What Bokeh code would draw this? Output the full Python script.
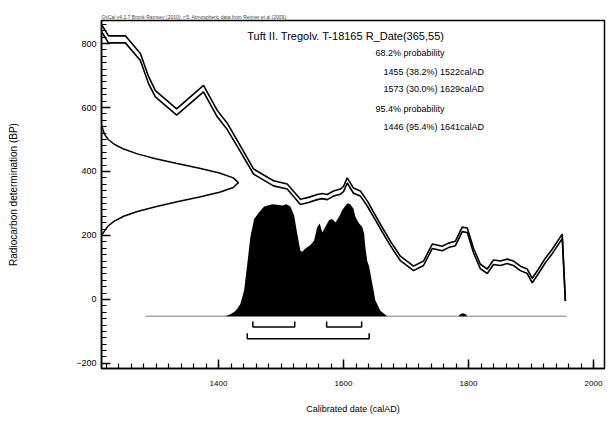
from bokeh.plotting import figure
from bokeh.models import Range1d, FixedTicker, Label
from bokeh.embed import file_html
from bokeh.resources import INLINE

FONT = "Liberation Sans"

# ---- axis ticks ----
x_major = [1200, 1400, 1600, 1800, 2000]
y_major = [-200, 0, 200, 400, 600, 800]
x_minor = list(range(1200, 2021, 20))
y_minor = list(range(-220, 881, 20))

# ---- calibration curve (mean BP and 1-sigma) ----
cal_year = [1210, 1213, 1224, 1251, 1275, 1288, 1299, 1333, 1376, 1398, 1414, 1432, 1456,
            1488, 1510, 1531, 1544, 1558, 1566, 1574, 1584, 1595, 1600, 1606, 1616, 1627,
            1638, 1659, 1675, 1691, 1712, 1728, 1742, 1758, 1768, 1779, 1790, 1798, 1808,
            1819, 1830, 1840, 1851, 1862, 1872, 1883, 1894, 1902, 1912, 1923, 1934, 1950, 1955]
cal_bp = [860, 848, 813, 813, 758, 686, 643, 586, 659, 581, 541, 481, 400,
          363, 353, 305, 311, 320, 323, 320, 331, 337, 345, 372, 340, 331,
          300, 228, 175, 128, 97, 113, 166, 159, 169, 175, 219, 216, 153,
          103, 88, 116, 113, 119, 113, 97, 88, 59, 88, 122, 150, 197, -5]
cal_sigma = [11, 11, 11, 11, 11, 11, 10, 10, 10, 10, 10, 9, 8,
             8, 8, 8, 8, 8, 8, 8, 8, 8, 8, 8, 8, 8,
             8, 7, 7, 7, 7, 7, 7, 7, 7, 7, 7, 7, 7,
             7, 7, 7, 7, 7, 7, 7, 7, 7, 7, 7, 7, 7, 0]

# ---- R_Date(365,55): radiocarbon likelihood along the BP axis (relative height) ----
rdate_bp = [548, 530, 515, 500, 485, 470, 455, 440, 425, 410, 395, 380, 365,
            350, 335, 320, 305, 290, 275, 260, 245, 230, 215, 200]
rdate_dens = [0.0, 0.011, 0.024, 0.049, 0.093, 0.162, 0.262, 0.395, 0.552, 0.716, 0.862, 0.963, 1.0,
              0.963, 0.862, 0.716, 0.552, 0.395, 0.262, 0.162, 0.093, 0.049, 0.024, 0.0]

# ---- calibrated posterior (relative height) ----
post_year = [1411, 1419, 1425, 1430, 1435, 1441, 1446, 1451, 1457, 1465, 1473, 1486, 1494,
             1502, 1509, 1515, 1521, 1526, 1531, 1534, 1539, 1547, 1553, 1558, 1562, 1566,
             1570, 1577, 1582, 1587, 1593, 1598, 1606, 1611, 1616, 1619, 1625, 1630, 1633,
             1635, 1638, 1641, 1646, 1651, 1659, 1670]
post_dens = [0.0, 0.018, 0.038, 0.068, 0.11, 0.23, 0.46, 0.70, 0.86, 0.92, 0.97, 0.99, 0.985,
             0.98, 0.99, 0.97, 0.89, 0.73, 0.58, 0.57, 0.60, 0.63, 0.67, 0.79, 0.82, 0.74,
             0.78, 0.85, 0.86, 0.83, 0.88, 0.94, 1.0, 0.99, 0.95, 0.88, 0.82, 0.79, 0.73,
             0.61, 0.49, 0.44, 0.29, 0.14, 0.05, 0.0]
bump_year = [1784, 1787, 1791, 1795, 1798]
bump_dens = [0.0, 0.02, 0.028, 0.02, 0.0]
post_span = [1283, 1957]

# ---- ranges ----
r68_from = [1455, 1573]
r68_to = [1522, 1629]
r95_from = [1446]
r95_to = [1641]

title_text = "Tuft II. Tregolv. T-18165 R_Date(365,55)"
info_lines = ["68.2% probability", "1455 (38.2%) 1522calAD", "1573 (30.0%) 1629calAD",
              "95.4% probability", "1446 (95.4%) 1641calAD"]
credit = "OxCal v4.1.7 Bronk Ramsey (2010); r:5; Atmospheric data from Reimer et al (2009);"

X0, X1 = 1212.8, 2017.6
Y0, Y1 = -216, 872

p = figure(width=609, height=423, output_backend="svg", toolbar_location=None,
           x_range=Range1d(X0, X1), y_range=Range1d(Y0, Y1),
           min_border_left=101, min_border_right=5, min_border_top=20, min_border_bottom=55)
p.grid.visible = False
p.outline_line_color = "black"
p.outline_line_width = 1.5
p.background_fill_color = "white"
p.border_fill_color = "white"

p.title.text = credit
p.title.text_font = FONT
p.title.text_font_size = "5px"
p.title.text_font_style = "normal"
p.title.align = "left"
p.title.standoff = 1
p.title.offset = 0

p.xaxis.ticker = FixedTicker(ticks=x_major, minor_ticks=x_minor)
p.yaxis.ticker = FixedTicker(ticks=y_major, minor_ticks=y_minor)
for ax in (p.xaxis[0], p.yaxis[0]):
    ax.major_tick_in = 9
    ax.major_tick_out = 0
    ax.minor_tick_in = 5
    ax.minor_tick_out = 0
    ax.axis_line_width = 1.5
    ax.major_tick_line_width = 1.5
    ax.major_tick_line_color = "black"
    ax.minor_tick_line_width = 1.2
    ax.minor_tick_line_color = "black"
    ax.major_label_text_font = FONT
    ax.major_label_text_color = "black"
    ax.axis_label_text_font = FONT
    ax.axis_label_text_font_style = "normal"
    ax.axis_label_text_color = "black"

p.xaxis.axis_label = "Calibrated date (calAD)"
p.xaxis.axis_label_text_font_size = "9px"
p.xaxis.major_label_text_font_size = "8px"
p.xaxis.major_label_standoff = 12
p.xaxis.axis_label_standoff = 15

p.yaxis.axis_label = "Radiocarbon determination (BP)"
p.yaxis.axis_label_text_font_size = "10px"
p.yaxis.major_label_text_font_size = "9px"
p.yaxis.major_label_standoff = 5
p.yaxis.axis_label_standoff = 54

# calibration curve: two lines at mean +/- sigma
upper = [m + s for m, s in zip(cal_bp, cal_sigma)]
lower = [m - s for m, s in zip(cal_bp, cal_sigma)]
p.line(cal_year, upper, line_color="black", line_width=1.6)
p.line(cal_year, lower, line_color="black", line_width=1.6)

# radiocarbon date along the y axis
RDATE_WIDTH = 219
p.line([X0 + d * RDATE_WIDTH for d in rdate_dens], rdate_bp, line_color="black", line_width=1.5)

# posterior distribution
POST_BASE = -53
POST_H = 354
p.line(post_span, [POST_BASE, POST_BASE], line_color="#a8a8a8", line_width=1.5)
p.varea(x=post_year, y1=[POST_BASE] * len(post_year),
        y2=[POST_BASE + d * POST_H for d in post_dens], fill_color="black")
p.varea(x=bump_year, y1=[POST_BASE] * len(bump_year),
        y2=[POST_BASE + d * POST_H for d in bump_dens], fill_color="black")

# range brackets
TICK = 17
def brackets(starts, ends, level):
    xs, ys = [], []
    for a, b in zip(starts, ends):
        xs.append([a, a, b, b])
        ys.append([level + TICK, level, level, level + TICK])
    return xs, ys

xs, ys = brackets(r68_from, r68_to, -86)
p.multi_line(xs, ys, line_color="black", line_width=1.5)
xs, ys = brackets(r95_from, r95_to, -123)
p.multi_line(xs, ys, line_color="black", line_width=1.5)

# texts
p.add_layout(Label(x=1446, y=825, text=title_text, text_font=FONT, text_font_size="11px",
                   text_baseline="middle", text_color="black"))
info_x = [1651, 1664, 1664, 1651, 1664]
info_y = [769, 710, 658, 596, 538]
for tx, ty, tt in zip(info_x, info_y, info_lines):
    p.add_layout(Label(x=tx, y=ty, text=tt, text_font=FONT, text_font_size="9px",
                       text_baseline="middle", text_color="black"))

open("out.html", "w").write(file_html(p, INLINE))
